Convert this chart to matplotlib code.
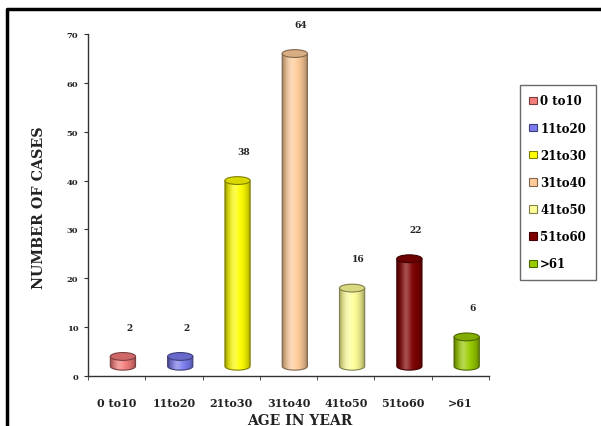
import matplotlib
matplotlib.use("Agg")
import matplotlib.pyplot as plt
import numpy as np
from matplotlib.patches import Ellipse, PathPatch, Patch
from matplotlib.path import Path
from matplotlib.colors import to_rgb
from matplotlib.lines import Line2D

age_groups = ["0 to10", "11to20", "21to30", "31to40", "41to50", "51to60", ">61"]
cases = [2, 2, 38, 64, 16, 22, 6]
bar_colors = ["#F47C7C", "#7C7CF0", "#FFFF00", "#FFCC99", "#FFFF99", "#800000", "#99CC00"]
y_ticks = [0, 10, 20, 30, 40, 50, 60, 70]

plt.rcParams['font.family'] = ['DejaVu Serif']
plt.rcParams['font.weight'] = 'bold'

fig = plt.figure(figsize=(6.01, 4.27), dpi=100)
ax = fig.add_axes([88/601, 1-377/427, (489-88)/601, (377-35)/427])

x = np.arange(len(age_groups))
depth_x = 0.11   # fake 3D shift of the cylinders
floor = 2.0
cyl_w = 0.44
ell_h = 1.6

bars = ax.bar(x + depth_x, cases, cyl_w, bottom=floor, color="none", edgecolor="none")


def _shade(color, n=64):
    c = np.array(to_rgb(color))
    t = np.linspace(0, 1, n)
    body = 0.55 + 0.45*np.sin(np.pi*t)**0.6
    hl = np.exp(-((t-0.35)/0.18)**2)*0.3
    rgb = c[None, :]*body[:, None]
    rgb = rgb + (1-rgb)*hl[:, None]
    return np.clip(rgb[None, :, :], 0, 1)


for rect, col in zip(bars, bar_colors):
    x0 = rect.get_x()
    w = rect.get_width()
    x1 = x0 + w
    xc = x0 + w/2
    y0 = rect.get_y()
    y1 = y0 + rect.get_height()
    dark = np.array(to_rgb(col))*0.5

    th = np.linspace(np.pi, 2*np.pi, 40)
    verts = [(xc + w/2*np.cos(a), y0 + ell_h/2*np.sin(a)) for a in th]
    verts += [(x1, y1), (x0, y1), verts[0]]
    codes = [Path.MOVETO] + [Path.LINETO]*(len(verts)-2) + [Path.CLOSEPOLY]
    body = Path(verts, codes)

    im = ax.imshow(_shade(col), extent=[x0, x1, y0-ell_h/2, y1], aspect='auto',
                   interpolation='bilinear', zorder=2)
    clip = PathPatch(body, transform=ax.transData, facecolor='none', edgecolor='none')
    ax.add_patch(clip)
    im.set_clip_path(clip)
    ax.add_patch(PathPatch(body, facecolor='none', edgecolor=dark, lw=0.8, zorder=3))
    top_col = np.array(to_rgb(col))*0.85
    ax.add_patch(Ellipse((xc, y1), w, ell_h, facecolor=top_col, edgecolor=dark,
                         lw=0.8, zorder=4))

for xi, v in zip(x, cases):
    ax.text(xi + 0.22, v + 8, str(v), ha='center', va='center', fontsize=6.5,
            fontweight='bold', color='#222222', clip_on=False)

ax.set_xlim(-0.5, len(age_groups) - 0.5)
ax.set_ylim(0, 70)
ax.set_yticks(y_ticks)
ax.set_yticklabels([str(t) for t in y_ticks], fontsize=6, fontweight='bold', color='#222222')
ax.set_xticks(x)
ax.set_xticklabels(age_groups, fontsize=8, fontweight='bold', color='#222222')
ax.set_xticks(np.arange(-0.5, len(age_groups)), minor=True)
ax.tick_params(axis='x', which='major', length=0, pad=15)
ax.tick_params(axis='x', which='minor', length=3, direction='out', color='#333333')
ax.tick_params(axis='y', length=3, direction='out', color='#333333', pad=4)
for side in ['top', 'right']:
    ax.spines[side].set_visible(False)
for side in ['left', 'bottom']:
    ax.spines[side].set_color('#333333')
    ax.spines[side].set_linewidth(1.0)

ax.set_xlabel("AGE IN YEAR", fontsize=10, fontweight='bold', color='#222222')
ax.xaxis.set_label_coords((300-88)/401, (377-414)/342)
ax.set_ylabel("NUMBER OF CASES", fontsize=10.3, fontweight='bold', color='#222222')
ax.yaxis.set_label_coords((46-88)/401, (377-208)/342)

handles = [Patch(facecolor=c, edgecolor=np.array(to_rgb(c))*0.5, lw=0.8) for c in bar_colors]
fig.legend(handles, age_groups, loc='upper left', bbox_to_anchor=(520/601, 1-86/427),
           prop={'weight': 'bold', 'size': 8.5}, frameon=True, fancybox=False,
           edgecolor='#444444', handlelength=0.6, handleheight=0.6, handletextpad=0.3,
           labelspacing=1.2, borderpad=0.8, borderaxespad=0)

# thick frame around the picture (right/bottom edges cut off)
fig.add_artist(Line2D([7/601, 7/601, 1.02], [-0.02, 1-10/427, 1-10/427],
                      transform=fig.transFigure, color='black', lw=2.5))

fig.savefig("out.png", dpi=100)
